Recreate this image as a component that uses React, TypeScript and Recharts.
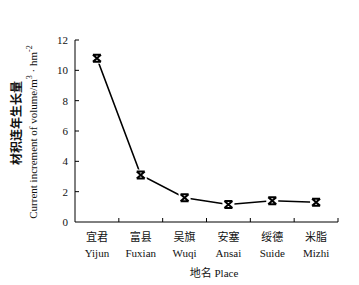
import React from "react";
import { LineChart, Line, XAxis, YAxis } from "recharts";

const placesZh = ["宜君", "富县", "吴旗", "安塞", "绥德", "米脂"];
const placesEn = ["Yijun", "Fuxian", "Wuqi", "Ansai", "Suide", "Mizhi"];
const increment = [10.8, 3.1, 1.6, 1.15, 1.4, 1.3];
const yTicks = [0, 2, 4, 6, 8, 10, 12];

const data = placesEn.map((name, i) => ({ pos: i + 0.5, name, value: increment[i] }));
const xTicks: number[] = [];
for (let i = 0; i < placesEn.length; i++) xTicks.push(i + 0.5, i + 1);

const serif = "'Liberation Serif', 'DejaVu Serif', serif";
const cjk = "'Noto Sans CJK SC', sans-serif";

function XTick(props: any) {
  const { x, y, payload } = props;
  const v = payload.value as number;
  if (Number.isInteger(v)) {
    return <line x1={x} y1={y} x2={x} y2={y - 4} stroke="#000" strokeWidth={1} />;
  }
  const i = Math.floor(v);
  return (
    <g>
      <text x={x} y={y + 19} textAnchor="middle" fontFamily={cjk} fontSize={11} fill="#111">
        {placesZh[i]}
      </text>
      <text x={x} y={y + 35} textAnchor="middle" fontFamily={serif} fontSize={11} fill="#111">
        {placesEn[i]}
      </text>
    </g>
  );
}

function YTick(props: any) {
  const { x, y, payload } = props;
  return (
    <g>
      <text x={x} y={y + 4} textAnchor="end" fontFamily={serif} fontSize={11} fill="#111">
        {payload.value}
      </text>
      {payload.value !== 0 && <line x1={x + 7} y1={y} x2={x + 11} y2={y} stroke="#000" strokeWidth={1} />}
    </g>
  );
}

function Marker(props: any) {
  const { cx, cy } = props;
  if (cx == null || cy == null) return null;
  const w = 4;
  const h = 3.5;
  return (
    <g>
      <rect x={cx - 6} y={cy - 5.5} width={12} height={11} fill="#fff" />
      <path
        d={`M${cx - w},${cy - h} L${cx + w},${cy + h} M${cx + w},${cy - h} L${cx - w},${cy + h} M${cx - w},${cy - h} L${cx + w},${cy - h} M${cx - w},${cy + h} L${cx + w},${cy + h}`}
        stroke="#000"
        strokeWidth={2}
        fill="none"
      />
    </g>
  );
}

export default function App() {
  return (
    <div style={{ position: "absolute", left: 0, top: 0, background: "#fff" }}>
      <LineChart width={359} height={285} data={data} margin={{ top: 40, right: 21, bottom: 0, left: 0 }}>
        <XAxis
          dataKey="pos"
          type="number"
          domain={[0, 6]}
          ticks={xTicks}
          interval={0}
          tickLine={false}
          tickSize={0}
          tickMargin={0}
          height={63}
          stroke="#000"
          tick={<XTick />}
          allowDecimals
        />
        <YAxis
          domain={[0, 12]}
          ticks={yTicks}
          interval={0}
          tickLine={false}
          tickSize={0}
          tickMargin={7}
          width={75}
          stroke="#000"
          tick={<YTick />}
        />
        <Line
          dataKey="value"
          stroke="#000"
          strokeWidth={1.6}
          dot={<Marker />}
          activeDot={false}
          isAnimationActive={false}
          type="linear"
        />
        <text x={15} y={123} transform="rotate(-90 15 123)" textAnchor="middle" dominantBaseline="central" fontFamily={cjk} fontWeight="bold" fontSize={12} fill="#111">
          材积连年生长量
        </text>
        <text x={33} y={132} transform="rotate(-90 33 132)" textAnchor="middle" dominantBaseline="central" fontFamily={serif} fontSize={11} fill="#111">
          Current increment of volume/m
          <tspan fontSize={8} dy={-4}>3</tspan>
          <tspan dy={4}> · hm</tspan>
          <tspan fontSize={8} dy={-4}>-2</tspan>
        </text>
        <text x={214} y={277} textAnchor="middle" fontSize={11} fill="#111">
          <tspan fontFamily={cjk}>地名</tspan>
          <tspan fontFamily={serif}> Place</tspan>
        </text>
      </LineChart>
    </div>
  );
}
